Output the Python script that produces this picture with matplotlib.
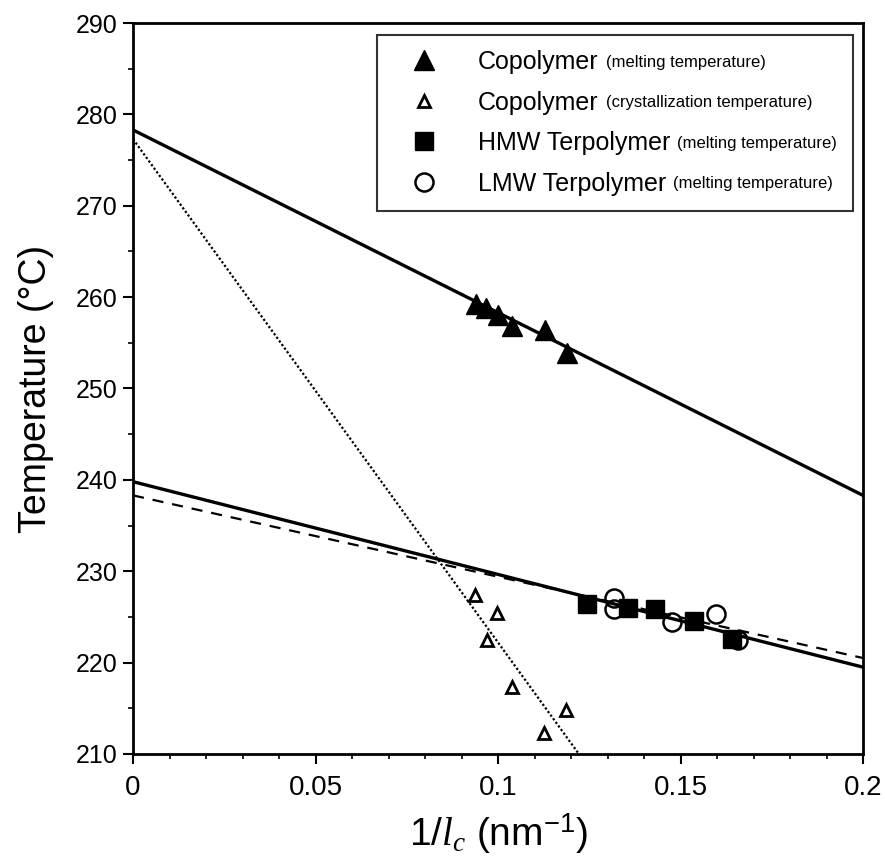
import matplotlib.pyplot as plt
from matplotlib.lines import Line2D
from matplotlib.ticker import MultipleLocator

# copolymer, melting temperature (filled triangles)
cm_x = [0.0940, 0.0967, 0.1000, 0.1038, 0.1129, 0.1189]
cm_y = [259.2, 258.8, 258.0, 256.8, 256.4, 253.9]

# copolymer, crystallization temperature (open triangles)
cc_x = [0.0937, 0.0997, 0.0970, 0.1038, 0.1186, 0.1126]
cc_y = [227.4, 225.4, 222.5, 217.3, 214.8, 212.3]

# HMW terpolymer, melting temperature (filled squares)
hmw_x = [0.1244, 0.1356, 0.1430, 0.1537, 0.1641]
hmw_y = [226.4, 226.0, 225.9, 224.6, 222.6]

# LMW terpolymer, melting temperature (open circles)
lmw_x = [0.1318, 0.1318, 0.1477, 0.1597, 0.1658]
lmw_y = [227.1, 225.9, 224.4, 225.3, 222.5]

# fitted lines, values at x = 0 and x = 0.2
fit_x = [0.0, 0.2]
cm_fit = [278.3, 238.3]
cc_fit = [277.3, 167.1]
hmw_fit = [239.8, 219.5]
lmw_fit = [238.3, 220.5]

names = ["Copolymer", "Copolymer", "HMW Terpolymer", "LMW Terpolymer"]
notes = ["(melting temperature)", "(crystallization temperature)",
         "(melting temperature)", "(melting temperature)"]

plt.rcParams["font.family"] = ["Liberation Sans", "DejaVu Sans"]
plt.rcParams["mathtext.fontset"] = "custom"
plt.rcParams["mathtext.it"] = "Liberation Serif:italic"
plt.rcParams["mathtext.rm"] = "Liberation Sans"

fig = plt.figure(figsize=(8.85, 8.56), dpi=100)
ax = fig.add_axes([0.1503, 0.1192, 0.8249, 0.8539])

ax.plot(fit_x, cm_fit, color="black", lw=2.4)
ax.plot(fit_x, cc_fit, color="black", lw=1.6, ls=(0, (1, 1)))
ax.plot(fit_x, hmw_fit, color="black", lw=2.4)
ax.plot(fit_x, lmw_fit, color="black", lw=1.6, ls=(0, (5, 4)))

ax.plot(cm_x, cm_y, ls="none", marker="^", ms=14, color="black")
ax.plot(cc_x, cc_y, ls="none", marker="^", ms=9, mfc="white", mec="black", mew=2)
ax.plot(hmw_x, hmw_y, ls="none", marker="s", ms=13, color="black")
ax.plot(lmw_x, lmw_y, ls="none", marker="o", ms=13, mfc="none", mec="black", mew=1.8)

ax.set_xlim(0, 0.2)
ax.set_ylim(210, 290)
ax.xaxis.set_major_locator(MultipleLocator(0.05))
ax.xaxis.set_minor_locator(MultipleLocator(0.01))
ax.yaxis.set_major_locator(MultipleLocator(10))
ax.yaxis.set_minor_locator(MultipleLocator(5))
ax.set_xticks([0, 0.05, 0.1, 0.15, 0.2], ["0", "0.05", "0.1", "0.15", "0.2"])
ax.tick_params(which="major", direction="out", length=7, width=1.5)
ax.tick_params(which="minor", direction="out", length=3.5, width=1.2)
ax.tick_params(axis="x", labelsize=20, pad=8)
ax.tick_params(axis="y", labelsize=18, pad=4)
for sp in ax.spines.values():
    sp.set_linewidth(2)

ax.set_ylabel("Temperature (°C)", fontsize=27, labelpad=16)
ax.set_xlabel(r"1/$\mathit{l}_{c}$ (nm$^{-1}$)", fontsize=28, labelpad=8)

handles = [
    Line2D([], [], ls="none", marker="^", ms=14, color="black"),
    Line2D([], [], ls="none", marker="^", ms=9, mfc="white", mec="black", mew=2),
    Line2D([], [], ls="none", marker="s", ms=13, color="black"),
    Line2D([], [], ls="none", marker="o", ms=13, mfc="none", mec="black", mew=1.8),
]
# expanded legend keeps room in the frame for the small notes
leg = ax.legend(handles, names, loc="upper left",
                bbox_to_anchor=(0.334, 0.5, 0.652, 0.4836), mode="expand",
                fontsize=18, frameon=True, fancybox=False, borderpad=0.6,
                labelspacing=0.66, handletextpad=0.85, handlelength=2.6,
                borderaxespad=0)
leg.get_frame().set_edgecolor("black")
leg.get_frame().set_linewidth(1.5)

fig.canvas.draw()
r = fig.canvas.get_renderer()
for t, note in zip(leg.get_texts(), notes):
    bb = t.get_window_extent(r)
    fig.text((bb.x1 + 7) / fig.bbox.width, (bb.y0 + bb.y1) / 2 / fig.bbox.height,
             note, fontsize=12, va="center")

fig.savefig("out.png", dpi=100)
